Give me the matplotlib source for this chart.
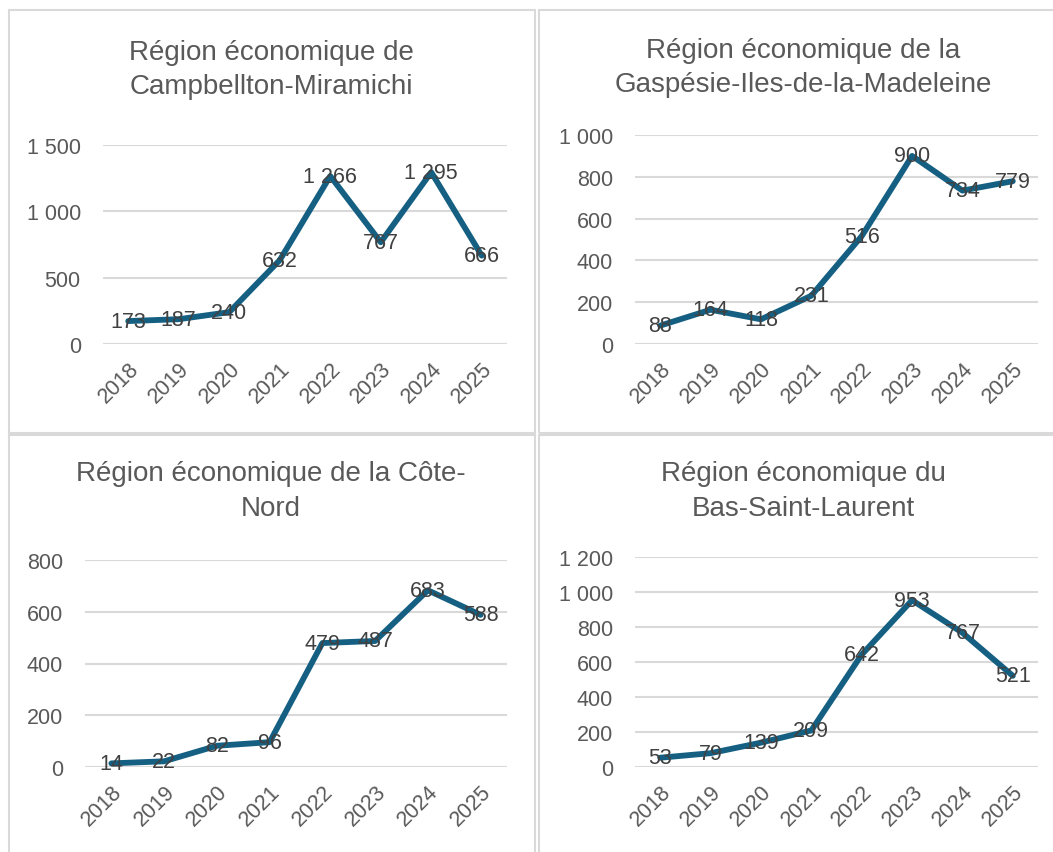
import matplotlib.pyplot as plt
from matplotlib.patches import Rectangle

# ---- Daten ----
years = ["2018", "2019", "2020", "2021", "2022", "2023", "2024", "2025"]

campbellton = [173, 187, 240, 632, 1266, 767, 1295, 666]
gaspesie = [88, 164, 118, 231, 516, 900, 734, 779]
cote_nord = [14, 22, 82, 96, 479, 487, 683, 588]
bas_st_laurent = [53, 79, 139, 209, 642, 953, 767, 521]

titles = [
    "Région économique de\nCampbellton-Miramichi",
    "Région économique de la\nGaspésie-Iles-de-la-Madeleine",
    "Région économique de la Côte-\nNord",
    "Région économique du\nBas-Saint-Laurent",
]
y_max = [1500, 1000, 800, 1200]
y_step = [500, 200, 200, 200]

LINE_COL = "#156082"
TXT_COL = "#404040"
TICK_COL = "#595959"
GRID_COL = "#d9d9d9"

plt.rcParams["font.family"] = ["Liberation Sans", "DejaVu Sans"]

W, H = 1053, 853
fig = plt.figure(figsize=(W / 100, H / 100), dpi=100)


def fmt(v):
    return f"{int(v):,}".replace(",", " ")


def px_rect(x0, y0, x1, y1):
    # Pixel (oben links) -> Figurkoordinaten
    return [x0 / W, 1 - y1 / H, (x1 - x0) / W, (y1 - y0) / H]


# Rahmen der vier Diagramme (rechts/unten angeschnitten)
for (x0, y0, x1, y1) in [(9, 11, 535, 434), (539, 11, 1060, 434),
                         (9, 436, 535, 860), (539, 436, 1060, 860)]:
    fig.patches.append(Rectangle((x0 / W, 1 - y1 / H), (x1 - x0) / W, (y1 - y0) / H,
                                 transform=fig.transFigure, fill=False,
                                 edgecolor="#d9d9d9", lw=1.5))

# Plotbereiche in Pixeln (links, oben, rechts, unten)
areas = [(103, 146, 507, 345), (635, 136, 1038, 345),
         (85, 561, 507, 768), (635, 558, 1038, 768)]
title_pos = [(271, 70), (803, 68), (271, 492), (803, 492)]
series = [campbellton, gaspesie, cote_nord, bas_st_laurent]

for i in range(4):
    ax = fig.add_axes(px_rect(*areas[i]))
    xs = range(len(years))
    ax.plot(xs, series[i], color=LINE_COL, lw=4.2, solid_capstyle="round",
            solid_joinstyle="round", zorder=3)
    for x, v in zip(xs, series[i]):
        ax.text(x, v, fmt(v), ha="center", va="center", fontsize=15.5,
                color=TXT_COL, zorder=4)
    ax.set_xlim(-0.5, len(years) - 0.5)
    ax.set_ylim(0, y_max[i])
    ticks = list(range(0, y_max[i] + 1, y_step[i]))
    ax.set_yticks(ticks)
    ax.set_yticklabels([fmt(t) for t in ticks])
    ax.set_xticks(list(xs))
    ax.set_xticklabels(years, rotation=45, ha="right", rotation_mode="anchor")
    ax.tick_params(axis="both", length=0, labelsize=15.5, labelcolor=TICK_COL)
    ax.tick_params(axis="y", pad=16)
    ax.tick_params(axis="x", pad=10)
    ax.grid(axis="y", color=GRID_COL, lw=1.5)
    ax.set_axisbelow(True)
    for s in ax.spines.values():
        s.set_visible(False)
    ax.patch.set_alpha(0)
    tx, ty = title_pos[i]
    fig.text(tx / W, 1 - ty / H, titles[i], ha="center", va="center",
             fontsize=20, color=TICK_COL, linespacing=1.45)

fig.savefig("out.png", dpi=100)
